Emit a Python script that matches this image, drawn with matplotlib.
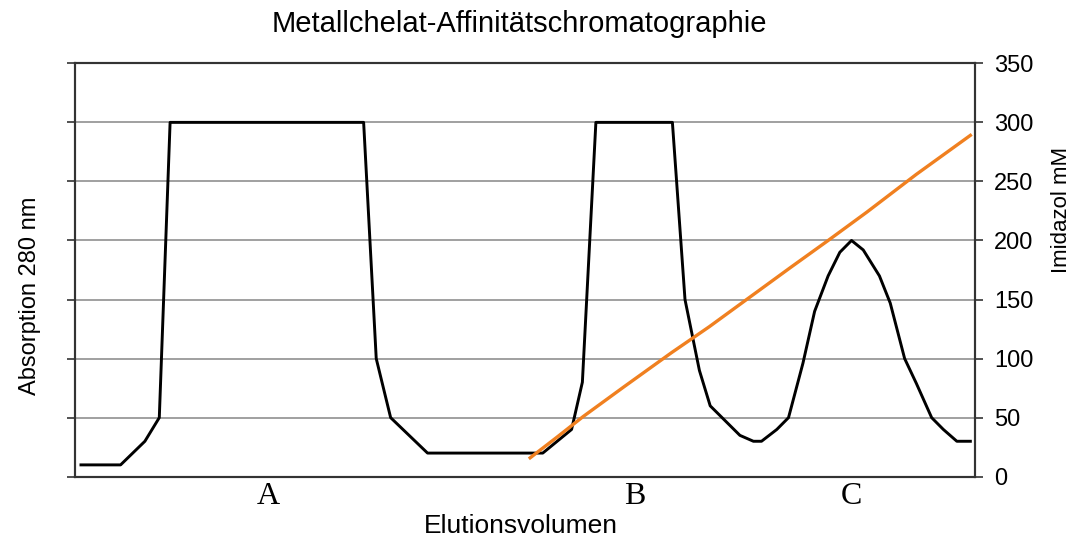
import matplotlib.pyplot as plt

# Elutionsvolumen (willkuerliche Einheiten 0..100)
abs_x = [0.7, 5.1, 7.8, 9.4, 10.6, 32.1, 33.5, 35.1, 39.2, 52.0, 55.2, 56.4,
         57.9, 66.4, 67.8, 69.4, 70.6, 73.9, 75.4, 76.3, 78.0, 79.3, 80.9,
         82.2, 83.7, 85.0, 86.3, 87.6, 89.4, 90.6, 92.2, 93.5, 95.2, 96.5,
         98.0, 99.5]
abs_y = [10, 10, 30, 50, 300, 300, 100, 50, 20, 20, 40, 80,
         300, 300, 150, 90, 60, 35, 30, 30, 40, 50, 96,
         140, 170, 190, 200, 192, 170, 147, 100, 79, 50, 40,
         30, 30]

imid_x = [50.6, 53.5, 56.5, 61.0, 66.3, 70.5, 75.0, 79.5, 83.7, 88.0, 93.5, 99.5]
imid_y = [16, 33, 51, 76, 105, 127, 152, 177, 200, 224, 256, 289]

peak_labels = ['A', 'B', 'C']
peak_pos = [21.5, 62.2, 86.3]

plt.rcParams['font.family'] = ['Liberation Sans', 'DejaVu Sans']

fig = plt.figure(figsize=(10.76, 5.43), dpi=100)
ax = fig.add_axes([0.0694, 0.1221, 0.8366, 0.7613])
ax2 = ax.twinx()

ax.set_xlim(0, 100)
ax.set_ylim(0, 350)
ax2.set_ylim(0, 350)

# Gitterlinien
for v in [50, 100, 150, 200, 250, 300]:
    ax.axhline(v, color='#909090', lw=1.2, zorder=0)

ax.plot(abs_x, abs_y, color='black', lw=2.1, zorder=3)
ax2.plot(imid_x, imid_y, color='#F08020', lw=2.4, zorder=4)

for a in (ax, ax2):
    for s in a.spines.values():
        s.set_color('#333333')
        s.set_linewidth(1.5)

ax.set_yticks(range(0, 351, 50))
ax.set_yticklabels([])
ax.tick_params(axis='y', length=6, width=1.2, color='#333333')
ax2.set_yticks(range(0, 351, 50))
ax2.tick_params(axis='y', length=6, width=1.2, color='#333333',
                labelsize=17, pad=8)

ax.set_xticks(peak_pos)
ax.set_xticklabels(peak_labels, family='Liberation Serif', fontsize=23)
ax.tick_params(axis='x', length=0, pad=4)

ax.set_ylabel('Absorption 280 nm', fontsize=17)
ax.yaxis.set_label_coords(-0.037, 0.437)
ax2.set_ylabel('Imidazol mM', fontsize=16)
ax2.yaxis.set_label_coords(1.085, 0.645)
ax.set_xlabel('Elutionsvolumen', fontsize=19)
ax.xaxis.set_label_coords(0.496, -0.09)

fig.text(0.483, 0.956, 'Metallchelat-Affinitätschromatographie',
         ha='center', va='center', fontsize=21)

fig.savefig('out.png', dpi=100)
